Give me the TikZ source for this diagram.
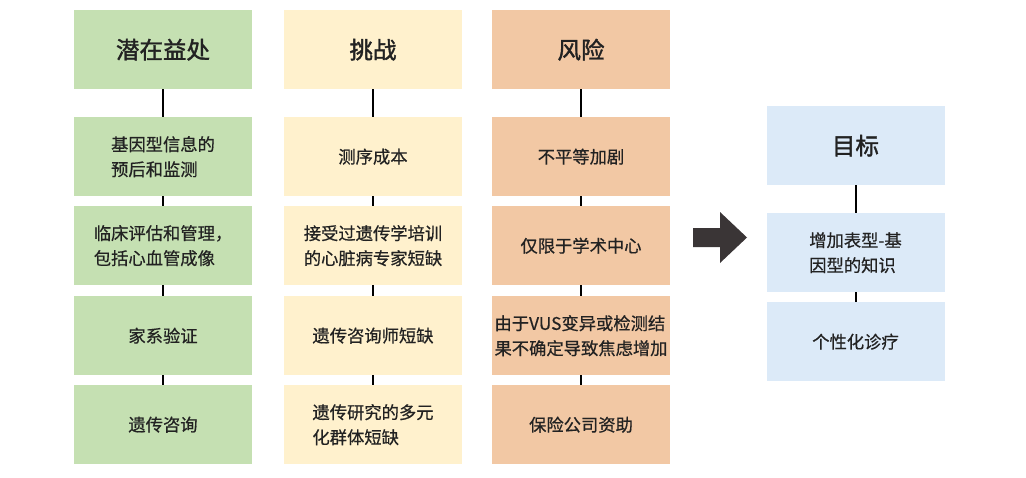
\documentclass[tikz,border=0pt]{standalone}
\usepackage{fontspec}
\setmainfont{Noto Sans CJK SC}
\newfontfamily\bodyfont[RawFeature={embolden=0.6}]{Noto Sans CJK SC}
\newfontfamily\headfont[RawFeature={embolden=1.6}]{Noto Sans CJK SC}
\usetikzlibrary{positioning}
\definecolor{cgreen}{RGB}{197,224,178}
\definecolor{cyellow}{RGB}{255,241,205}
\definecolor{corange}{RGB}{242,200,164}
\definecolor{cblue}{RGB}{220,234,248}
\definecolor{ctext}{RGB}{34,34,34}
\definecolor{carrow}{RGB}{58,53,54}
\tikzset{
  box/.style={minimum width=178pt, minimum height=79pt, inner sep=0pt, text=ctext, font=\bodyfont\fontsize{17.3}{25}\selectfont, align=left, anchor=north},
  head/.style={box, font=\headfont\fontsize{23.5}{26}\selectfont},
  link/.style={draw=black, line width=2pt},
}
\begin{document}
\begin{tikzpicture}[x=1pt,y=-1pt]
\useasboundingbox (0,0) rectangle (1026,477);
% column 1
\node[head, fill=cgreen] (g0) at (163,10) {潜在益处};
\node[box, fill=cgreen] (g1) at (163,117) {基因型信息的\\预后和监测};
\node[box, fill=cgreen] (g2) at (163,206) {临床评估和管理，\\包括心血管成像};
\node[box, fill=cgreen] (g3) at (163,296) {家系验证};
\node[box, fill=cgreen] (g4) at (163,385) {遗传咨询};
% column 2
\node[head, fill=cyellow] (y0) at (373,10) {挑战};
\node[box, fill=cyellow] (y1) at (373,117) {测序成本};
\node[box, fill=cyellow] (y2) at (373,206) {接受过遗传学培训\\的心脏病专家短缺};
\node[box, fill=cyellow] (y3) at (373,296) {遗传咨询师短缺};
\node[box, fill=cyellow] (y4) at (373,385) {遗传研究的多元\\化群体短缺};
% column 3
\node[head, fill=corange] (o0) at (581,10) {风险};
\node[box, fill=corange] (o1) at (581,117) {不平等加剧};
\node[box, fill=corange] (o2) at (581,206) {仅限于学术中心};
\node[box, fill=corange] (o3) at (581,296) {由于VUS变异或检测结\\果不确定导致焦虑增加};
\node[box, fill=corange] (o4) at (581,385) {保险公司资助};
% column 4
\node[head, fill=cblue] (b0) at (855.5,106) {目标};
\node[box, fill=cblue] (b1) at (855.5,213) {增加表型-基\\因型的知识};
\node[box, fill=cblue] (b2) at (855.5,302) {个性化诊疗};
% links
\foreach \c in {g,y,o}{
  \draw[link] (\c0.south) -- (\c1.north);
  \draw[link] (\c1.south) -- (\c2.north);
  \draw[link] (\c2.south) -- (\c3.north);
  \draw[link] (\c3.south) -- (\c4.north);
}
\draw[link] (b0.south) -- (b1.north);
\draw[link] (b1.south) -- (b2.north);
% big arrow
\fill[carrow] (693,228) -- (720,228) -- (720,212) -- (747,237.5) -- (720,263) -- (720,247) -- (693,247) -- cycle;
\end{tikzpicture}
\end{document}
